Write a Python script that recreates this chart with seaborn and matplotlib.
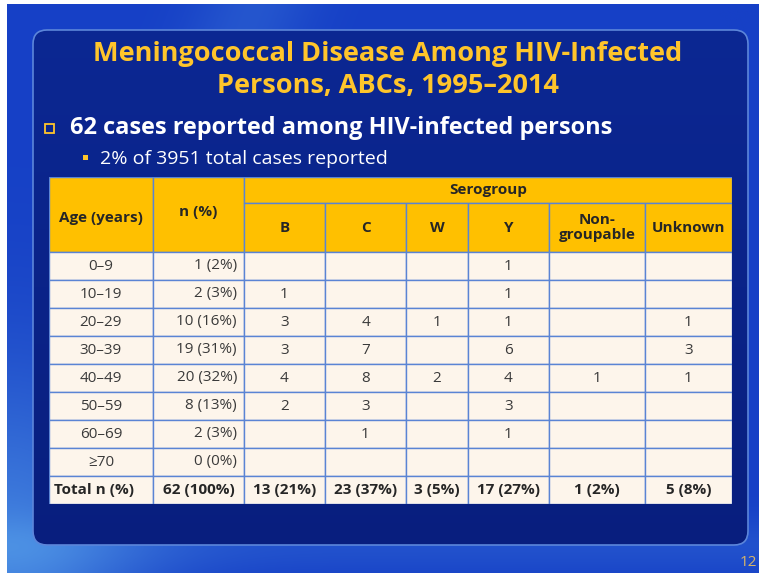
import numpy as np
import pandas as pd
import matplotlib
matplotlib.use("Agg")
import matplotlib.pyplot as plt
from matplotlib.patches import Rectangle, FancyBboxPatch
import seaborn as sns

# ---- data ----
age_groups = ["0–9", "10–19", "20–29", "30–39", "40–49", "50–59", "60–69", "≥70"]
n_cases = [1, 2, 10, 19, 20, 8, 2, 0]
n_pct = [2, 3, 16, 31, 32, 13, 3, 0]
serogroups = ["B", "C", "W", "Y", "Non-\ngroupable", "Unknown"]
sero_b = [0, 1, 3, 3, 4, 2, 0, 0]
sero_c = [0, 0, 4, 7, 8, 3, 1, 0]
sero_w = [0, 0, 1, 0, 2, 0, 0, 0]
sero_y = [1, 1, 1, 6, 4, 3, 1, 0]
sero_ng = [0, 0, 0, 0, 1, 0, 0, 0]
sero_unk = [0, 0, 1, 3, 1, 0, 0, 0]
sero_totals = [13, 23, 3, 17, 1, 5]
sero_total_pct = [21, 37, 5, 27, 2, 8]
total_cases = 62
total_pct = 100

title = "Meningococcal Disease Among HIV-Infected\nPersons, ABCs, 1995–2014"
bullet = "62 cases reported among HIV-infected persons"
sub_bullet = "2% of 3951 total cases reported"
page_no = "12"

counts = pd.DataFrame(
    {s: v for s, v in zip(serogroups, [sero_b, sero_c, sero_w, sero_y, sero_ng, sero_unk])},
    index=age_groups,
)

# ---- style ----
sns.set_theme(style="white")
FONT = ["Open Sans", "DejaVu Sans"]
plt.rcParams["font.family"] = FONT

GOLD = "#FFC52B"
HEADER = "#FFC000"
CELL = "#FDF5EB"
GRID = "#5A84D4"
TXT = "#3A3A3A"
HTXT = "#262626"

W, H = 759, 573
fig = plt.figure(figsize=(W / 100, H / 100), dpi=100)
fig.patch.set_facecolor("white")

# background axes in pixel units
bg = fig.add_axes([0, 0, 1, 1])
bg.set_xlim(0, W)
bg.set_ylim(H, 0)
bg.axis("off")

yy, xx = np.mgrid[0:H, 0:W]
xn = xx / W
yn = yy / H
base = np.array([22, 64, 198]) / 255
light = np.array([80, 150, 230]) / 255
w = 0.75 * np.exp(-((xn / 0.18) ** 2 + ((1 - yn) / 0.35) ** 2))
w += 0.25 * np.exp(-(((xn - 0.33 + 0.3 * yn) / 0.08) ** 2)) * (yn < 0.12)
w += 0.2 * np.exp(-(((yn - 0.95) / 0.05) ** 2))
w = np.clip(w, 0, 1)[..., None]
img = base * (1 - w) + light * w
bg.imshow(img, extent=(7, W, H, 4), aspect="auto", zorder=0)

panel = FancyBboxPatch((33, 30), 715, 515, boxstyle="round,pad=0,rounding_size=14",
                       facecolor="none", edgecolor="#5C86DA", linewidth=1.2, zorder=2)
bg.add_patch(panel)
pg = np.linspace(0, 1, H)[:, None, None]
ptop = np.array([12, 40, 148]) / 255
pbot = np.array([8, 30, 125]) / 255
pimg = ptop * (1 - pg) + pbot * pg
pimg = np.repeat(pimg, W, axis=1)
pim = bg.imshow(pimg, extent=(0, W, H, 0), aspect="auto", zorder=1)
pim.set_clip_path(panel)

bg.text(388, 70, title, ha="center", va="center", color=GOLD, fontsize=19.5,
        fontweight="bold", linespacing=1.33, zorder=3)
bg.add_patch(Rectangle((45, 124), 9, 9, facecolor="none", edgecolor=GOLD, linewidth=1.3, zorder=3))
bg.text(70, 128, bullet, ha="left", va="center", color="white", fontsize=16.9,
        fontweight="bold", zorder=3)
bg.add_patch(Rectangle((83, 155), 5, 5, facecolor=GOLD, edgecolor="none", zorder=3))
bg.text(100, 159, sub_bullet, ha="left", va="center", color="white", fontsize=14, zorder=3)
bg.text(757, 562, page_no, ha="right", va="center", color="#D6B46A", fontsize=11, zorder=3)

# ---- table ----
col_w = [104, 91, 81, 81, 62, 81, 96, 87]
row_h = [26, 49] + [28] * 9
x_edges = np.concatenate([[0], np.cumsum(col_w)])
y_edges = np.concatenate([[0], np.cumsum(row_h)])
tw, th = x_edges[-1], y_edges[-1]

ax = fig.add_axes([49 / W, 1 - (177 + th) / H, tw / W, th / H])
ax.set_xlim(0, tw)
ax.set_ylim(th, 0)
ax.axis("off")


def cell(c0, c1, r0, r1, color):
    ax.add_patch(Rectangle((x_edges[c0], y_edges[r0]), x_edges[c1] - x_edges[c0],
                           y_edges[r1] - y_edges[r0], facecolor=color,
                           edgecolor=GRID, linewidth=1.0))


def cx(c):
    return (x_edges[c] + x_edges[c + 1]) / 2


def cy(r):
    return (y_edges[r] + y_edges[r + 1]) / 2


# header
cell(0, 1, 0, 2, HEADER)
cell(1, 2, 0, 2, HEADER)
cell(2, 8, 0, 1, HEADER)
for j in range(len(serogroups)):
    cell(2 + j, 3 + j, 1, 2, HEADER)
hk = dict(ha="center", va="center", color=HTXT, fontsize=11, fontweight="bold")
ax.text(cx(0), 41, "Age (years)", **hk)
ax.text(cx(1), 35, "n (%)", **hk)
ax.text((x_edges[2] + x_edges[8]) / 2, cy(0), "Serogroup", **hk)
for j, s in enumerate(serogroups):
    ax.text(cx(2 + j), cy(1), s, linespacing=1.1, **hk)

# body
dk = dict(va="center", color=TXT, fontsize=11)
for i, age in enumerate(age_groups):
    r = 2 + i
    for c in range(8):
        cell(c, c + 1, r, r + 1, CELL)
    ax.text(cx(0), cy(r), age, ha="center", **dk)
    ax.text(x_edges[2] - 7, cy(r), f"{n_cases[i]} ({n_pct[i]}%)", ha="right", **dk)
    for j, s in enumerate(serogroups):
        v = counts.loc[age, s]
        if v:
            ax.text(cx(2 + j), cy(r), str(v), ha="center", **dk)

# totals row
r = 2 + len(age_groups)
for c in range(8):
    cell(c, c + 1, r, r + 1, CELL)
tk = dict(va="center", color=HTXT, fontsize=11, fontweight="bold")
ax.text(5, cy(r), "Total n (%)", ha="left", **tk)
ax.text(cx(1), cy(r), f"{total_cases} ({total_pct}%)", ha="center", **tk)
for j in range(len(serogroups)):
    ax.text(cx(2 + j), cy(r), f"{sero_totals[j]} ({sero_total_pct[j]}%)", ha="center", **tk)

fig.savefig("out.png", dpi=100)
